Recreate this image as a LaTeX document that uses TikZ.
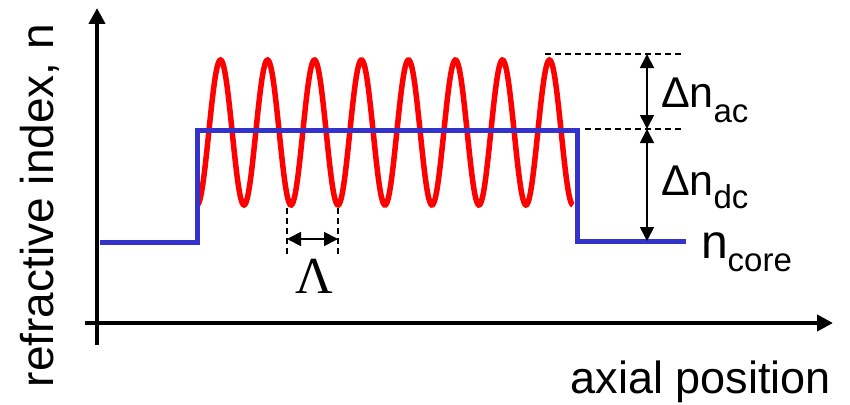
\documentclass[tikz,border=0pt]{standalone}
\usepackage{fontspec}
\setmainfont{Liberation Sans}
\newfontfamily\serifgr{Liberation Serif}
\usetikzlibrary{arrows.meta}
\definecolor{gblue}{RGB}{51,51,204}
\definecolor{gred}{RGB}{255,0,0}
\newcommand{\fsz}[1]{\fontsize{#1}{#1}\selectfont}
\tikzset{
  axisline/.style={line width=4pt, -{Triangle[length=16pt,width=16pt]}},
  dimarrow/.style={line width=1.8pt, {Triangle[length=14pt,width=14pt]}-{Triangle[length=14pt,width=14pt]}},
  guide/.style={line width=1.8pt, dash pattern=on 6pt off 4pt},
  bluecurve/.style={gblue, line width=5pt, line join=miter},
  redcurve/.style={gred, line width=5.5pt},
  lbl/.style={inner sep=0pt, outer sep=0pt}
}
\begin{document}
\begin{tikzpicture}[x=1pt,y=-1pt]
\useasboundingbox (0,0) rectangle (850,404);
% axes
\coordinate (ybot) at (97,345);
\coordinate (ytop) at (97,8);
\coordinate (xleft) at (85,323);
\coordinate (xright) at (833,323);
\draw[axisline] (ybot) -- (ytop);
\draw[axisline] (xleft) -- (xright);
% red sine
\draw[redcurve] plot[domain=197:573, samples=400, smooth] (\x, {132.5+72.5*cos((\x-197)/47*360)});
% blue profile
\coordinate (b0) at (100,242);
\coordinate (b1) at (197,242);
\coordinate (b2) at (197,130);
\coordinate (b3) at (577,130);
\coordinate (b4) at (577,241);
\coordinate (b5) at (686,241);
\draw[bluecurve] (b0) -- (b1) -- (b2) -- (b3) -- (b4) -- (b5);
% guide lines
\coordinate (g1a) at (545,54);
\coordinate (g1b) at (683,54);
\coordinate (g2a) at (585,129);
\coordinate (g2b) at (683,129);
\draw[guide] (g1a) -- (g1b);
\draw[guide] (g2a) -- (g2b);
\coordinate (acTop) at (647,54);
\coordinate (acBot) at (647,129);
\coordinate (dcBot) at (647,241);
\draw[dimarrow] (acTop) -- (acBot);
\draw[dimarrow] (acBot) -- (dcBot);
% Lambda
\coordinate (L1t) at (287,208);
\coordinate (L1b) at (287,257);
\coordinate (L2t) at (338,208);
\coordinate (L2b) at (338,257);
\draw[guide] (L1t) -- (L1b);
\draw[guide] (L2t) -- (L2b);
\coordinate (La) at (287,239);
\coordinate (Lb) at (338,239);
\draw[dimarrow] (La) -- (Lb);
% labels
\node[lbl, anchor=base] (lam) at (314,293) {\serifgr\fsz{52}Λ};
\node[lbl, anchor=base west] (nac) at (661,107) {\fsz{43}Δn\raisebox{-15pt}{\fsz{33}ac}};
\node[lbl, anchor=base west] (ndc) at (661,195) {\fsz{43}Δn\raisebox{-13pt}{\fsz{33}dc}};
\node[lbl, anchor=base west] (ncore) at (701,258) {\fsz{48}n\raisebox{-13pt}{\fsz{33}core}};
\node[lbl, anchor=base east] (xlab) at (831,393) {\fsz{45}axial position};
\node[lbl, anchor=base west, rotate=90] (ylab) at (53,387) {\fsz{46}refractive index, n};
\end{tikzpicture}
\end{document}
